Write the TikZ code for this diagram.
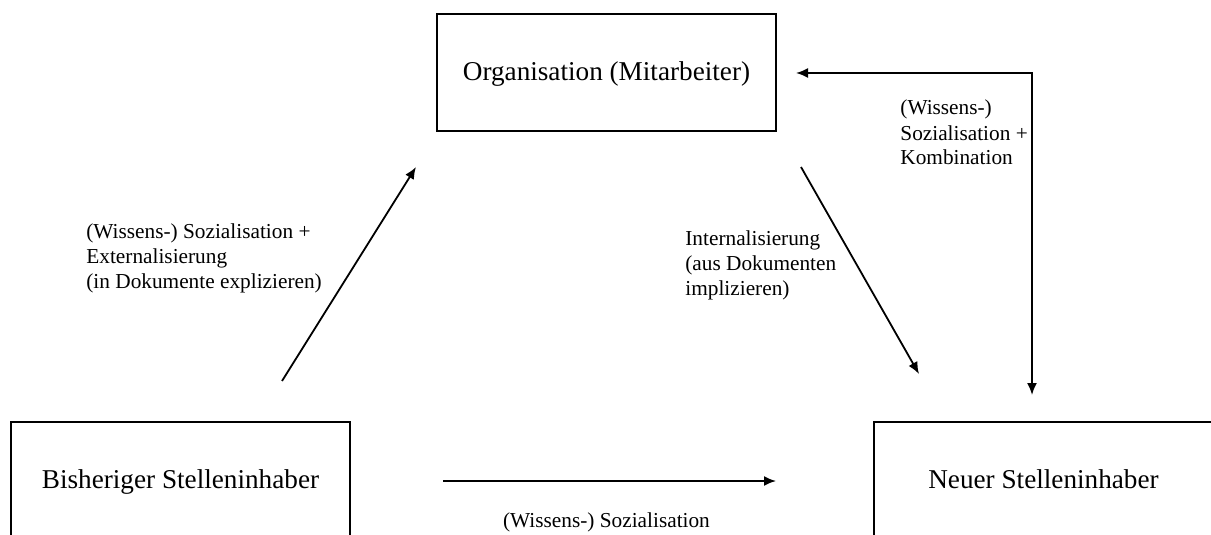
\documentclass[tikz,border=0pt]{standalone}
\usepackage{fontspec}
\setmainfont{Liberation Serif}
\usetikzlibrary{arrows.meta}
\tikzset{>={Latex[length=6pt,width=5pt]}}
\tikzset{stelle/.style={draw, line width=1pt, minimum width=169.5pt, minimum height=58.5pt, inner sep=0pt, text height=0.78em, text depth=0pt, font=\fontsize{13.6}{16}\selectfont}}
\tikzset{lab/.style={align=left, inner sep=0pt, anchor=base west, font=\fontsize{10.65}{12.5}\selectfont}}
\tikzset{pfeil/.style={->, line width=0.9pt}}

\begin{document}
\begin{tikzpicture}[x=0.5pt, y=-0.5pt]
\clip (0,0) rectangle (1211,535);
\node[stelle] (org) at (606.5,72.5) {Organisation (Mitarbeiter)};
\node[stelle] (alt) at (180.5,480.5) {Bisheriger Stelleninhaber};
\node[stelle] (neu) at (1043.5,480.5) {Neuer Stelleninhaber};

\coordinate (p1) at (282,381);
\coordinate (p2) at (416,167);
\coordinate (q1) at (801,167);
\coordinate (q2) at (919,374);
\coordinate (r1) at (443,481);
\coordinate (r2) at (776,481);
\coordinate (s1) at (796,73);
\coordinate (s2) at (1032,395);

\draw[pfeil] (p1) -- (p2);
\draw[pfeil] (q1) -- (q2);
\draw[pfeil] (r1) -- (r2);
\draw[pfeil, <->] (s1) -| (s2);

% base anchor sits on the last line
\node[lab] (ext) at (86,288) {(Wissens-) Sozialisation +\\Externalisierung\\(in Dokumente explizieren)};
\node[lab] (int) at (685,295) {Internalisierung\\(aus Dokumenten\\implizieren)};
\node[lab] (kom) at (900,165) {(Wissens-)\\Sozialisation +\\Kombination};
\node[lab, anchor=base] (soz) at (606.5,527) {(Wissens-) Sozialisation};
\end{tikzpicture}
\end{document}
